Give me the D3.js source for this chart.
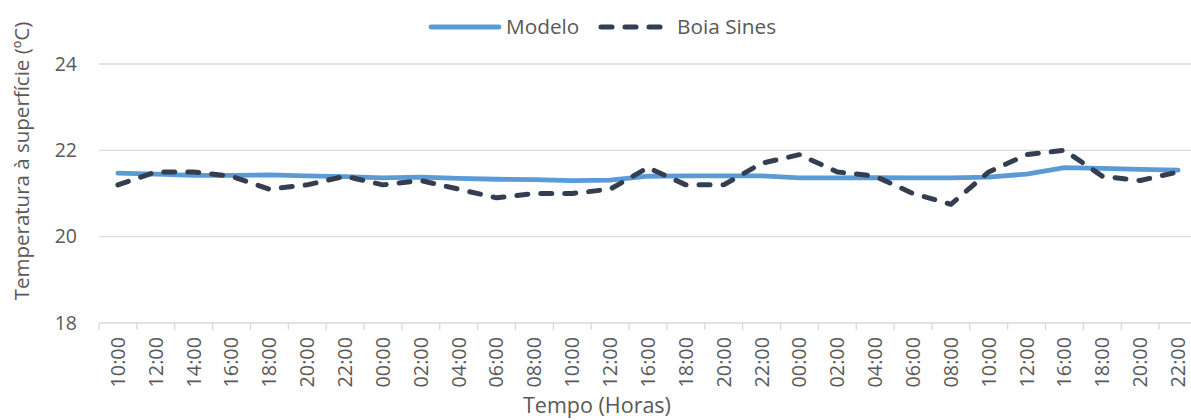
<!DOCTYPE html>
<html>
<head>
<meta charset="utf-8">
<script src="https://cdn.jsdelivr.net/npm/d3@7"></script>
<style>
  body { margin: 0; background: #fff; }
  text { font-family: "Open Sans", sans-serif; fill: #595959; }
</style>
</head>
<body>
<div id="chart"></div>
<script>
const hours = ["10:00", "12:00", "14:00", "16:00", "18:00", "20:00", "22:00", "00:00", "02:00", "04:00",
  "06:00", "08:00", "10:00", "12:00", "16:00", "18:00", "20:00", "22:00", "00:00", "02:00",
  "04:00", "06:00", "08:00", "10:00", "12:00", "16:00", "18:00", "20:00", "22:00"];
const modelo = [21.47, 21.45, 21.42, 21.42, 21.43, 21.41, 21.39, 21.36, 21.38, 21.35,
  21.33, 21.32, 21.30, 21.31, 21.40, 21.41, 21.41, 21.41, 21.36, 21.36,
  21.37, 21.36, 21.36, 21.38, 21.45, 21.60, 21.58, 21.56, 21.54];
const boia = [21.2, 21.5, 21.5, 21.4, 21.1, 21.2, 21.4, 21.2, 21.3, 21.1,
  20.9, 21.0, 21.0, 21.1, 21.6, 21.2, 21.2, 21.7, 21.9, 21.5,
  21.4, 21.0, 20.75, 21.5, 21.9, 22.0, 21.4, 21.3, 21.5];
const yTicks = [18, 20, 22, 24];

const width = 1191, height = 420;
const margin = { top: 64, right: -6, bottom: 97, left: 99 };

const svg = d3.select("#chart").append("svg")
  .attr("width", width).attr("height", height);

// band per time step, index keys since labels repeat
const x = d3.scaleBand()
  .domain(d3.range(hours.length))
  .range([margin.left, width - margin.right]);
const y = d3.scaleLinear()
  .domain([18, 24])
  .range([height - margin.bottom, margin.top]);

// gridlines
svg.append("g")
  .selectAll("line")
  .data(yTicks.slice(1))
  .join("line")
  .attr("x1", margin.left).attr("x2", width - margin.right)
  .attr("y1", d => y(d)).attr("y2", d => y(d))
  .attr("stroke", "#d9d9d9").attr("stroke-width", 1.3);

// y labels
svg.append("g")
  .selectAll("text")
  .data(yTicks)
  .join("text")
  .attr("x", 77)
  .attr("y", d => y(d))
  .attr("dy", "0.35em")
  .attr("text-anchor", "end")
  .style("font-size", "19.5px")
  .text(d => d);

// x axis
const xAxis = svg.append("g")
  .attr("transform", `translate(0,${y(18)})`);
xAxis.append("line")
  .attr("x1", margin.left).attr("x2", width - margin.right)
  .attr("stroke", "#d9d9d9").attr("stroke-width", 1.3);
xAxis.append("g")
  .selectAll("line")
  .data(d3.range(hours.length + 1))
  .join("line")
  .attr("x1", i => margin.left + i * x.step())
  .attr("x2", i => margin.left + i * x.step())
  .attr("y1", 0).attr("y2", 7)
  .attr("stroke", "#d9d9d9").attr("stroke-width", 1.3);
xAxis.append("g")
  .selectAll("text")
  .data(hours)
  .join("text")
  .attr("transform", (d, i) => `translate(${x(i) + x.bandwidth() / 2},14) rotate(-90)`)
  .attr("dy", "0.35em")
  .attr("text-anchor", "end")
  .style("font-size", "19.8px")
  .text(d => d);

// axis titles
svg.append("text")
  .attr("x", 597).attr("y", 413)
  .attr("text-anchor", "middle")
  .style("font-size", "21.5px")
  .text("Tempo (Horas)");
svg.append("text")
  .attr("transform", "translate(29,161) rotate(-90)")
  .attr("text-anchor", "middle")
  .style("font-size", "20.5px")
  .text("Temperatura à superfície (ºC)");

const line = d3.line()
  .x((d, i) => x(i) + x.bandwidth() / 2)
  .y(d => y(d));

svg.append("path")
  .datum(modelo)
  .attr("fill", "none")
  .attr("stroke", "#5b9bd5")
  .attr("stroke-width", 4.8)
  .attr("stroke-linejoin", "round")
  .attr("stroke-linecap", "round")
  .attr("d", line);

svg.append("path")
  .datum(boia)
  .attr("fill", "none")
  .attr("stroke", "#333f50")
  .attr("stroke-width", 5)
  .attr("stroke-linejoin", "round")
  .attr("stroke-linecap", "round")
  .attr("stroke-dasharray", "11,13")
  .attr("d", line);

// legend
const legend = svg.append("g");
legend.append("line")
  .attr("x1", 431).attr("x2", 499).attr("y1", 27).attr("y2", 27)
  .attr("stroke", "#5b9bd5").attr("stroke-width", 4.8).attr("stroke-linecap", "round");
legend.append("text")
  .attr("x", 506).attr("y", 27).attr("dy", "0.35em")
  .style("font-size", "20.8px")
  .text("Modelo");
legend.append("line")
  .attr("x1", 601).attr("x2", 665).attr("y1", 27).attr("y2", 27)
  .attr("stroke", "#333f50").attr("stroke-width", 5).attr("stroke-linecap", "round")
  .attr("stroke-dasharray", "11,13");
legend.append("text")
  .attr("x", 677).attr("y", 27).attr("dy", "0.35em")
  .style("font-size", "20.8px")
  .text("Boia Sines");
</script>
</body>
</html>
